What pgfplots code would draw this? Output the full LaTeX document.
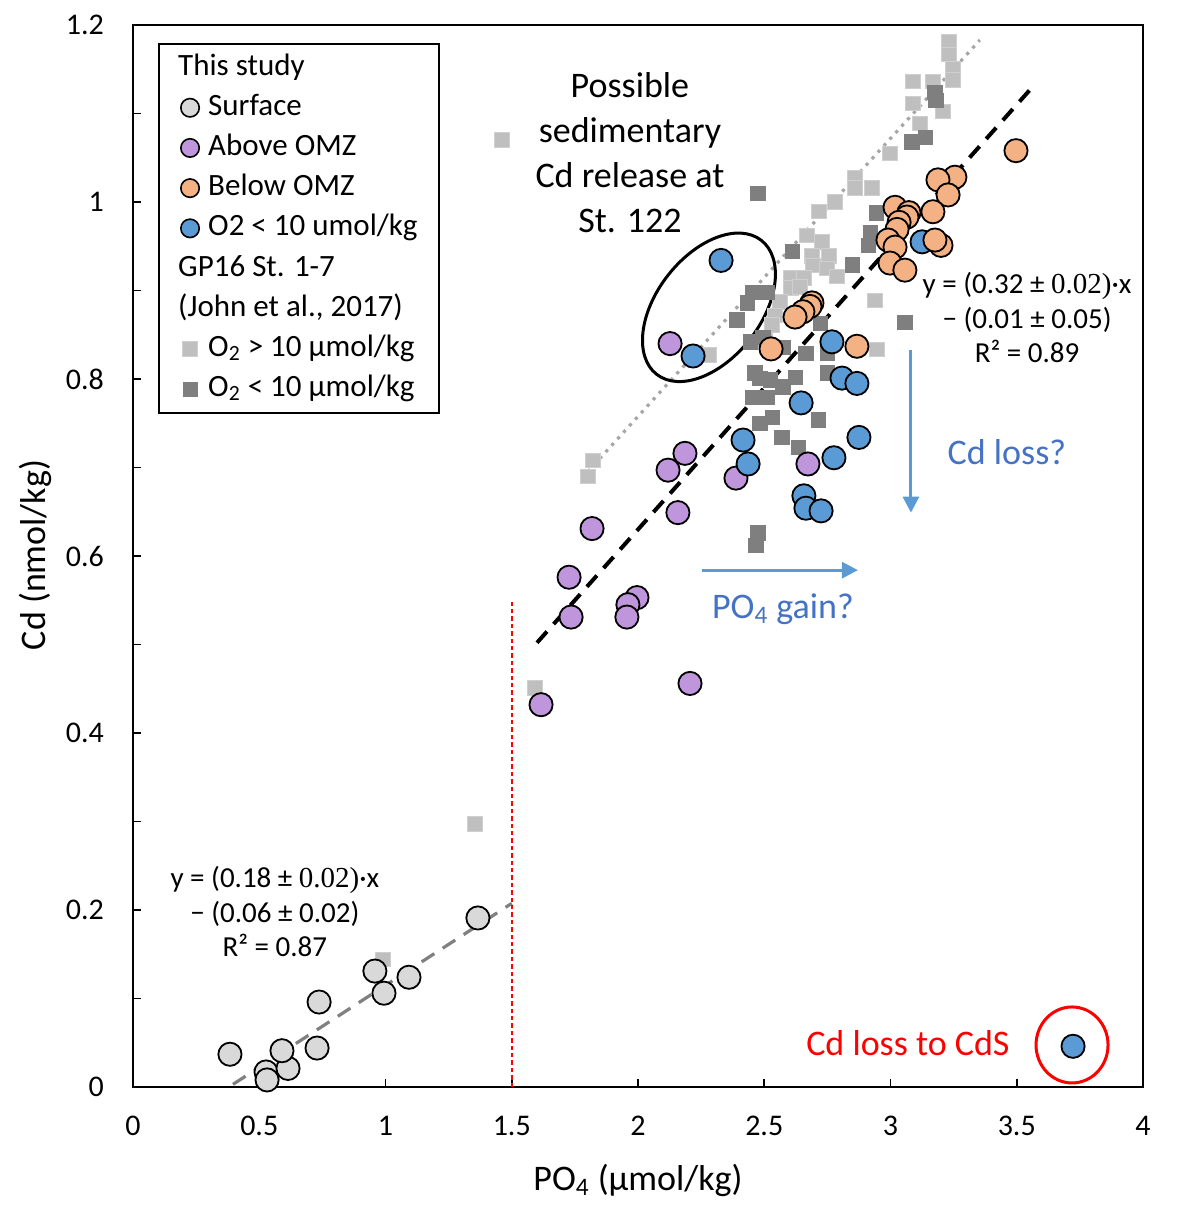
\documentclass[border=0pt]{standalone}
\usepackage{pgfplots}
\pgfplotsset{compat=1.18}
\usepackage{fontspec}
\setmainfont{Carlito}
\newfontfamily\mathnum{Liberation Serif}
\usetikzlibrary{arrows.meta,shapes.geometric}
\definecolor{surf}{HTML}{D9D9D9}
\definecolor{purp}{HTML}{BF95DC}
\definecolor{oran}{HTML}{F4B183}
\definecolor{blu}{HTML}{5B9BD5}
\definecolor{lsq}{HTML}{BFBFBF}
\definecolor{lsqb}{HTML}{CFCFCF}
\definecolor{dsq}{HTML}{7F7F7F}
\definecolor{txtblue}{HTML}{4472C4}
\definecolor{dotgray}{HTML}{A6A6A6}
\definecolor{dashgray}{HTML}{808080}
\definecolor{pured}{HTML}{FF0000}
\begin{document}
\begin{tikzpicture}
\path[use as bounding box] (-66.5pt,-59.5pt) rectangle (522.5pt,543.5pt);
\begin{axis}[
  at={(0pt,0pt)}, anchor=south west,
  scale only axis, width=505pt, height=531pt,
  xmin=0, xmax=4, ymin=0, ymax=1.2,
  xtick={0,0.5,1,1.5,2,2.5,3,3.5,4},
  ytick={0,0.2,0.4,0.6,0.8,1,1.2},
  minor ytick={0.1,0.3,0.5,0.7,0.9,1.1},
  tick pos=left, tick align=inside,
  major tick length=4pt, minor tick length=4pt,
  every tick/.style={black, line width=0.9pt},
  axis line style={line width=1pt},
  /pgf/number format/assume math mode=true,
  tick label style={font=\fontsize{15}{18}\selectfont},
  yticklabel style={xshift=-11pt},
  xticklabel style={yshift=-11pt},
  xlabel={PO\textsubscript{4} (µmol/kg)},
  ylabel={Cd (nmol/kg)},
  xlabel style={font=\fontsize{18}{22}\selectfont, at={(axis description cs:0.5,-0.088)}, anchor=center},
  ylabel style={font=\fontsize{18}{22}\selectfont, at={(axis description cs:-0.097,0.501)}, anchor=center, rotate=0},
  legend style={at={(axis description cs:0.0248,0.983)}, anchor=north west,
    draw=black, line width=1pt, inner xsep=10.5pt, inner ysep=4.5pt,
    font=\fontsize{15.5}{18}\selectfont,
    nodes={inner sep=0pt, text height=11pt, text depth=3.5pt},
    row sep=5.6pt, column sep=4.5pt},
  legend cell align=left,
  legend image code/.code={\draw[#1] plot coordinates {(5pt,0pt)};},
]
% trend lines
\addplot[forget plot, no marks, color=dotgray, line width=1.6pt, dash pattern=on 1.6pt off 2.8pt] coordinates {(1.778,0.688) (3.354,1.183)};
\addplot[forget plot, no marks, black, line width=2pt, dash pattern=on 7.5pt off 5pt] coordinates {(1.60,0.502) (3.55,1.126)};
\addplot[forget plot, no marks, color=dashgray, line width=1.6pt, dash pattern=on 7.5pt off 5pt] coordinates {(0.396,0.003) (1.5,0.2075)};
\addplot[forget plot, no marks, draw=pured, color=pured, line width=0.8pt, dash pattern=on 2.2pt off 1.5pt] coordinates {(1.5,0) (1.5,0.55)};
% John et al. O2 > 10
\addplot[forget plot, only marks, mark=square*, mark size=3.6pt, mark options={fill=lsq, draw=lsqb, line width=0.5pt}] coordinates {
(3.232,1.181) (3.232,1.167) (3.248,1.151) (3.248,1.138) (3.089,1.136) (3.168,1.136)
(3.089,1.111) (3.208,1.102) (3.117,1.089) (2.998,1.055) (2.859,1.027) (2.859,1.016)
(2.927,1.016) (2.780,1.000) (2.717,0.989) (2.669,0.962) (2.729,0.955) (2.689,0.939)
(2.756,0.939) (2.693,0.928) (2.749,0.925) (2.788,0.916) (2.606,0.915) (2.606,0.903)
(2.657,0.914) (2.642,0.904) (2.562,0.887) (2.543,0.872) (2.531,0.861) (2.503,0.844)
(2.939,0.889) (2.947,0.833) (2.281,0.827) (1.461,1.070) (1.354,0.297) (1.592,0.451)
(0.990,0.144) (1.822,0.708) (1.802,0.690)};
% John et al. O2 < 10
\addplot[forget plot, only marks, mark=square*, mark size=3.6pt, mark options={fill=dsq, draw=dsq, line width=0.3pt}] coordinates {
(2.475,1.010) (2.610,0.944) (2.455,0.898) (2.511,0.898) (2.432,0.886) (2.392,0.867)
(3.176,1.124) (3.180,1.115) (3.085,1.068) (3.137,1.073) (2.943,0.988) (2.919,0.966)
(2.911,0.951) (2.848,0.929) (3.057,0.864) (2.721,0.863) (2.444,0.842) (2.495,0.847)
(2.574,0.836) (2.665,0.829) (2.749,0.829) (2.463,0.807) (2.483,0.801) (2.523,0.799)
(2.622,0.802) (2.749,0.807) (2.574,0.791) (2.455,0.779) (2.511,0.779) (2.531,0.757)
(2.483,0.750) (2.713,0.754) (2.570,0.734) (2.634,0.723) (2.475,0.626) (2.467,0.612)};
% Surface
\addplot[forget plot, only marks, mark=*, mark size=5.8pt, mark options={fill=surf, draw=black, line width=0.9pt}] coordinates {
(0.384,0.037) (0.527,0.017) (0.531,0.008) (0.614,0.021) (0.590,0.041) (0.737,0.096)
(0.729,0.044) (0.958,0.131) (0.994,0.106) (1.093,0.124) (1.366,0.191)};
% Above OMZ
\addplot[forget plot, only marks, mark=*, mark size=5.8pt, mark options={fill=purp, draw=black, line width=0.9pt}] coordinates {
(2.127,0.840) (2.186,0.716) (2.119,0.697) (2.388,0.688) (2.673,0.704) (2.158,0.649)
(1.818,0.631) (1.727,0.576) (1.996,0.553) (1.960,0.545) (1.956,0.531) (1.735,0.531)
(2.206,0.456) (1.616,0.432)};
% Below OMZ
\addplot[forget plot, only marks, mark=*, mark size=5.8pt, mark options={fill=oran, draw=black, line width=0.9pt}] coordinates {
(3.497,1.058) (3.255,1.028) (3.188,1.025) (3.228,1.008) (3.168,0.989) (3.018,0.994)
(3.073,0.988) (3.065,0.983) (3.034,0.977) (3.026,0.969) (2.990,0.957) (3.018,0.949)
(2.998,0.931) (3.057,0.923) (2.689,0.886) (2.681,0.882) (2.653,0.876) (2.622,0.870)
(2.867,0.837) (2.527,0.834)};
% O2 < 10 (this study)
\addplot[forget plot, only marks, mark=*, mark size=5.8pt, mark options={fill=blu, draw=black, line width=0.9pt}] coordinates {
(2.329,0.934) (2.218,0.826) (2.768,0.842) (2.808,0.801) (2.867,0.795) (2.646,0.773)
(2.416,0.731) (2.436,0.704) (2.875,0.734) (2.776,0.711) (2.657,0.668) (2.665,0.654)
(2.725,0.651) (3.125,0.955) (3.723,0.046)};
\addplot[forget plot, only marks, mark=*, mark size=5.8pt, mark options={fill=oran, draw=black, line width=0.9pt}] coordinates {
(3.200,0.951) (3.176,0.957)};
% legend
\addlegendimage{empty legend}
\addlegendentry{\hspace*{-15pt}This study}
\addlegendimage{only marks, mark=*, mark size=4.6pt, mark options={fill=surf, draw=black, line width=0.8pt}}
\addlegendentry{Surface}
\addlegendimage{only marks, mark=*, mark size=4.6pt, mark options={fill=purp, draw=black, line width=0.8pt}}
\addlegendentry{Above OMZ}
\addlegendimage{only marks, mark=*, mark size=4.6pt, mark options={fill=oran, draw=black, line width=0.8pt}}
\addlegendentry{Below OMZ}
\addlegendimage{only marks, mark=*, mark size=4.6pt, mark options={fill=blu, draw=black, line width=0.8pt}}
\addlegendentry{O2 < 10 umol/kg}
\addlegendimage{empty legend}
\addlegendentry{\hspace*{-15pt}GP16 St. 1-7}
\addlegendimage{empty legend}
\addlegendentry{\hspace*{-15pt}(John et al., 2017)}
\addlegendimage{only marks, mark=square*, mark size=3.6pt, mark options={fill=lsq, draw=lsqb, line width=0.5pt}}
\addlegendentry{O\textsubscript{2} > 10 µmol/kg}
\addlegendimage{only marks, mark=square*, mark size=3.6pt, mark options={fill=dsq, draw=dsq, line width=0.3pt}}
\addlegendentry{O\textsubscript{2} < 10 µmol/kg}
% annotations
\node[align=center, font=\fontsize{18}{22.5}\selectfont] at (axis cs:1.968,1.056) {Possible\\sedimentary\\Cd release at\\St. 122};
\node[align=center, font=\fontsize{14.5}{17.25}\selectfont] at (axis cs:3.541,0.869) {y = (0.32 ± {\mathnum 0.02)}·x\\− (0.01 ± 0.05)\\R² = 0.89};
\node[align=center, font=\fontsize{14.5}{17.25}\selectfont] at (axis cs:0.562,0.198) {y = (0.18 ± {\mathnum 0.02)}·x\\− (0.06 ± 0.02)\\R² = 0.87};
\node[font=\fontsize{18}{22}\selectfont, text=txtblue] at (axis cs:3.461,0.7175) {Cd loss?};
\node[font=\fontsize{18}{22}\selectfont, text=txtblue] at (axis cs:2.574,0.540) {PO\textsubscript{4} gain?};
\node[font=\fontsize{18}{22}\selectfont, text=pured] at (axis cs:3.069,0.0497) {Cd loss to CdS};
\draw[-{Triangle[length=8pt,width=8pt]}, blu, line width=1.5pt] (axis cs:3.081,0.833) -- (axis cs:3.081,0.649);
\draw[-{Triangle[length=8pt,width=8pt]}, blu, line width=1.5pt] (axis cs:2.253,0.584) -- (axis cs:2.871,0.584);
\node[draw=black, ellipse, line width=1.5pt, minimum width=85pt, minimum height=52pt, inner sep=0pt, rotate=52] at (axis cs:2.281,0.881) {};
\node[draw=pured, ellipse, line width=1.5pt, minimum width=36pt, minimum height=38pt, inner sep=0pt] at (axis cs:3.719,0.0475) {};
\node[rotate=90, font=\fontsize{7}{8}\selectfont, text=dashgray] at (axis description cs:-0.0257,0.505) {Cd};
\end{axis}
\end{tikzpicture}
\end{document}
